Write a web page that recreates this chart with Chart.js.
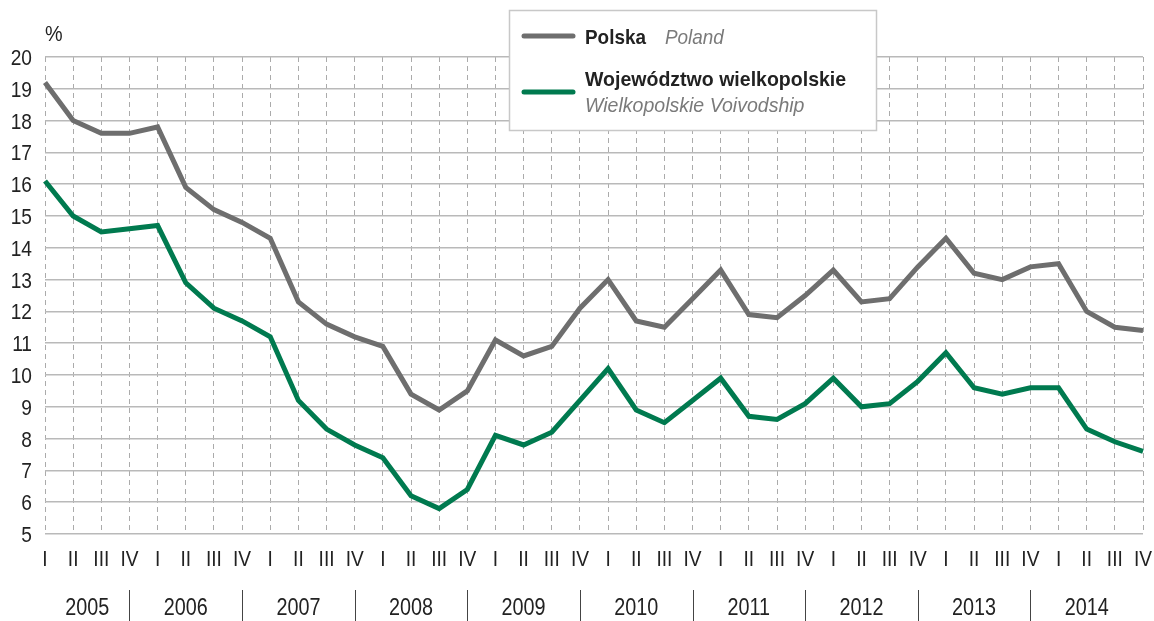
<!DOCTYPE html>
<html>
<head>
<meta charset="utf-8">
<script src="https://cdn.jsdelivr.net/npm/chart.js@4.4.1/dist/chart.umd.min.js"></script>
<style>
  html, body { margin: 0; padding: 0; background: #fff; }
</style>
</head>
<body>
<canvas id="chart" width="1154" height="621"></canvas>
<script>
const FONT = '"Liberation Sans", Arial, sans-serif';

const years = ['2005', '2006', '2007', '2008', '2009', '2010', '2011', '2012', '2013', '2014'];
const quarters = ['I', 'II', 'III', 'IV'];
const yTicks = [5, 6, 7, 8, 9, 10, 11, 12, 13, 14, 15, 16, 17, 18, 19, 20];

const polska = [
  19.2, 18.0, 17.6, 17.6, 17.8, 15.9, 15.2, 14.8, 14.3, 12.3,
  11.6, 11.2, 10.9, 9.4, 8.9, 9.5, 11.1, 10.6, 10.9, 12.1,
  13.0, 11.7, 11.5, 12.4, 13.3, 11.9, 11.8, 12.5, 13.3, 12.3,
  12.4, 13.4, 14.3, 13.2, 13.0, 13.4, 13.5, 12.0, 11.5, 11.4
];
const wielkopolskie = [
  16.1, 15.0, 14.5, 14.6, 14.7, 12.9, 12.1, 11.7, 11.2, 9.2,
  8.3, 7.8, 7.4, 6.2, 5.8, 6.4, 8.1, 7.8, 8.2, 9.2,
  10.2, 8.9, 8.5, 9.2, 9.9, 8.7, 8.6, 9.1, 9.9, 9.0,
  9.1, 9.8, 10.7, 9.6, 9.4, 9.6, 9.6, 8.3, 7.9, 7.6
];

const labels = years.flatMap(y => quarters.map(q => y + ' ' + q));

const GRAY = '#6e6e6e';
const GREEN = '#007a4f';

// condensed text: Liberation Sans squeezed horizontally
function narrowText(ctx, text, x, y, font, color, align, sx) {
  ctx.save();
  ctx.font = font;
  ctx.fillStyle = color;
  ctx.textAlign = align;
  ctx.translate(x, y);
  ctx.scale(sx, 1);
  ctx.fillText(text, 0, 0);
  ctx.restore();
}

// tick labels, year labels and separators
const axisText = {
  id: 'axisText',
  afterDraw(chart) {
    const { ctx, scales: { x, y } } = chart;
    const f = '22px ' + FONT;
    ctx.save();
    ctx.textBaseline = 'alphabetic';
    yTicks.forEach(v => {
      narrowText(ctx, String(v), 32, y.getPixelForValue(v) + 8, f, '#222', 'right', 0.87);
    });
    labels.forEach((l, i) => {
      narrowText(ctx, quarters[i % 4], x.getPixelForValue(i), 566, f, '#222', 'center', 0.87);
    });
    ctx.strokeStyle = '#444';
    ctx.lineWidth = 1;
    let left = x.getPixelForValue(0);
    years.forEach((yr, i) => {
      const right = x.getPixelForValue(i * 4 + 3);
      narrowText(ctx, yr, (left + right) / 2, 615, '23px ' + FONT, '#222', 'center', 0.86);
      if (i < years.length - 1) {
        ctx.beginPath();
        ctx.moveTo(Math.round(right) + 0.5, 590);
        ctx.lineTo(Math.round(right) + 0.5, 621);
        ctx.stroke();
      }
      left = right;
    });
    narrowText(ctx, '%', 45, 41, '22px ' + FONT, '#222', 'left', 0.9);
    ctx.restore();
  }
};

// legend box
const legendBox = {
  id: 'legendBox',
  afterDraw(chart) {
    const { ctx } = chart;
    ctx.save();
    ctx.fillStyle = '#fff';
    ctx.fillRect(509, 10, 368, 121);
    ctx.strokeStyle = '#c8c8c8';
    ctx.lineWidth = 1.5;
    ctx.strokeRect(509.5, 10.5, 367, 120);

    ctx.lineCap = 'round';
    ctx.lineWidth = 5;
    ctx.strokeStyle = GRAY;
    ctx.beginPath(); ctx.moveTo(524, 36); ctx.lineTo(573, 36); ctx.stroke();
    ctx.strokeStyle = GREEN;
    ctx.beginPath(); ctx.moveTo(524, 92); ctx.lineTo(573, 92); ctx.stroke();

    const b = 'bold 21px ' + FONT;
    const it = 'italic 21px ' + FONT;
    ctx.textBaseline = 'alphabetic';
    narrowText(ctx, 'Polska', 585, 44, b, '#222', 'left', 0.9);
    narrowText(ctx, 'Poland', 665, 44, it, '#7a7a7a', 'left', 0.9);
    narrowText(ctx, 'Województwo wielkopolskie', 585, 86, b, '#222', 'left', 0.93);
    narrowText(ctx, 'Wielkopolskie Voivodship', 585, 112, it, '#7a7a7a', 'left', 0.93);
    ctx.restore();
  }
};

new Chart(document.getElementById('chart'), {
  type: 'line',
  data: {
    labels: labels,
    datasets: [
      { label: 'Polska', data: polska, borderColor: GRAY, borderWidth: 5, pointRadius: 0, tension: 0 },
      { label: 'Województwo wielkopolskie', data: wielkopolskie, borderColor: GREEN, borderWidth: 5, pointRadius: 0, tension: 0 }
    ]
  },
  options: {
    responsive: false,
    animation: false,
    layout: { padding: { top: 57, right: 11, left: 0, bottom: 0 } },
    plugins: { legend: { display: false }, tooltip: { enabled: false } },
    scales: {
      x: {
        offset: false,
        border: { display: false },
        grid: { color: '#ababab', lineWidth: 1, drawTicks: false },
        ticks: { display: false, autoSkip: false },
        afterFit: s => { s.height = 87; }
      },
      y: {
        min: 5,
        max: 20,
        afterBuildTicks: s => { s.ticks = yTicks.map(v => ({ value: v })); },
        border: { display: false },
        grid: { color: '#b9b9b9', lineWidth: 1.5, drawTicks: false },
        ticks: { display: false },
        afterFit: s => { s.width = 45; }
      }
    }
  },
  plugins: [axisText, legendBox]
});

// dashed vertical grid lines
const chart = Chart.getChart('chart');
chart.options.scales.x.border.dash = [5, 4];
chart.options.scales.x.grid.borderDash = [5, 4];
chart.options.scales.x.border.display = false;
chart.update();
</script>
</body>
</html>
